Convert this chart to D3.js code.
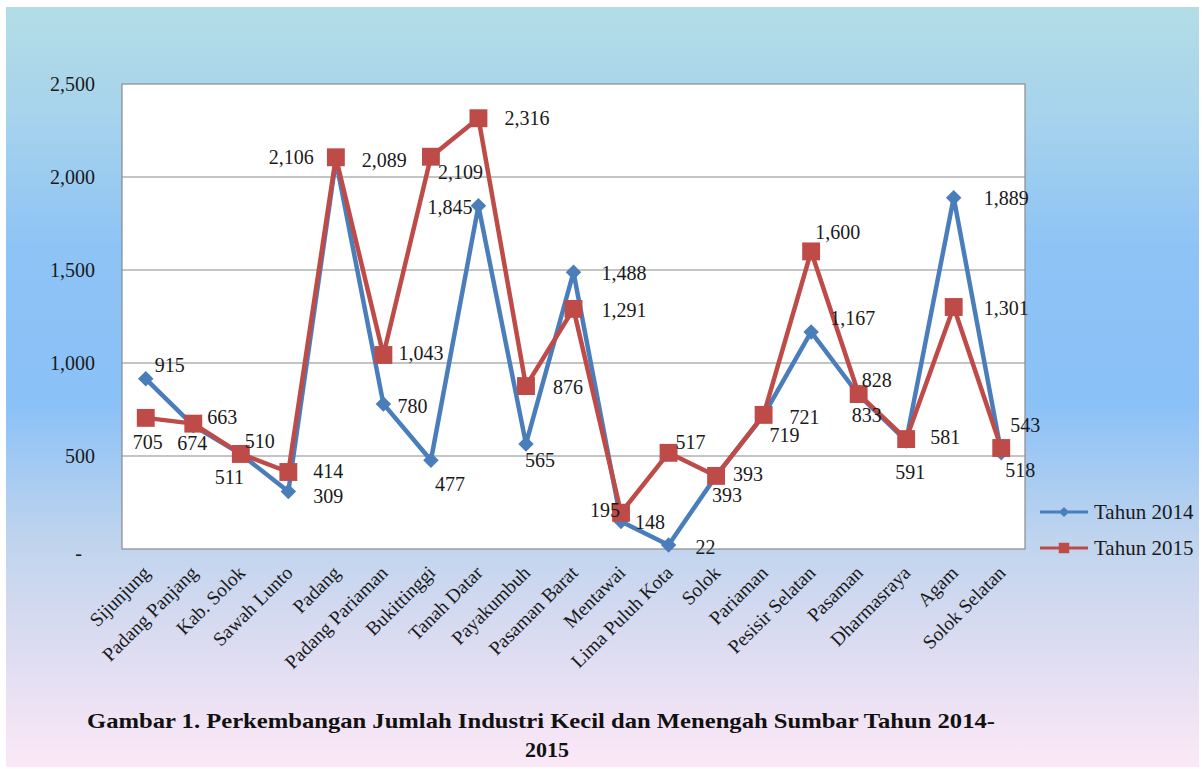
<!DOCTYPE html>
<html>
<head>
<meta charset="utf-8">
<script src="https://cdn.jsdelivr.net/npm/d3@7/dist/d3.min.js"></script>
<style>
    body { margin: 0; background: #fff; }
    text { font-family: "Liberation Serif", "Times New Roman", serif; fill: #1a1a1a; }
</style>
</head>
<body>
<div id="my_chart"></div>
<script>
// data
var categories = ["Sijunjung", "Padang Panjang", "Kab. Solok", "Sawah Lunto", "Padang",
    "Padang Pariaman", "Bukittinggi", "Tanah Datar", "Payakumbuh", "Pasaman Barat",
    "Mentawai", "Lima Puluh Kota", "Solok", "Pariaman", "Pesisir Selatan", "Pasaman",
    "Dharmasraya", "Agam", "Solok Selatan"];
var tahun2014 = [915, 663, 510, 309, 2089, 780, 477, 1845, 565, 1488, 148, 22, 393, 719, 1167, 828, 581, 1889, 518];
var tahun2015 = [705, 674, 511, 414, 2106, 1043, 2109, 2316, 876, 1291, 195, 517, 393, 721, 1600, 833, 591, 1301, 543];
var yTicks = [0, 500, 1000, 1500, 2000, 2500];
var seriesNames = ["Tahun 2014", "Tahun 2015"];
var titleLines = ["Gambar 1. Perkembangan Jumlah Industri Kecil dan Menengah Sumbar Tahun 2014-", "2015"];

// where each data label sits relative to its point (moved by hand in the original)
var labelOffsets2014 = [[9, -14], [14, -9], [4, -13], [25, 4], [26, 0], [14, 2], [4, 24], [-51, 1], [-1, 16],
    [28, 1], [14, 1], [27, 2], [-4, 19], [6, 20], [19, -14], [3, -15], [24, -4], [30, 0], [4, 17]];
var labelOffsets2015 = [[-13, 24], [-16, 19], [-26, 23], [25, -1], [-67, 0], [15, -2], [7, 15], [26, 0], [27, 1],
    [28, 1], [-31, -3], [7, -11], [17, -2], [26, 2], [4, -19], [-7, 21], [-11, 33], [30, 1], [9, -23]];

var W = 1202, H = 769;
var margin = { top: 84, left: 122 },
    width = 903,
    height = 465;

var blue = "#4a7ebb", red = "#be4b48";

var root = d3.select("#my_chart").append("svg")
    .attr("width", W)
    .attr("height", H);

// background gradient
var grad = root.append("defs").append("linearGradient")
    .attr("id", "bg").attr("x1", 0).attr("y1", 0).attr("x2", 0).attr("y2", 1);
[[0, "#b3dde6"], [0.14, "#a7d3ec"], [0.32, "#8dc3f5"], [0.52, "#8ac1f7"], [0.7, "#bfd4ee"],
 [0.84, "#dcdcf1"], [1, "#fce8f6"]].forEach(function (s) {
    grad.append("stop").attr("offset", s[0]).attr("stop-color", s[1]);
});

root.append("rect").attr("width", W).attr("height", H).attr("fill", "#fff");
root.append("rect")
    .attr("x", 6).attr("y", 7)
    .attr("width", 1193).attr("height", 760)
    .attr("fill", "url(#bg)");

var svg = root.append("g")
    .attr("transform", "translate(" + margin.left + "," + margin.top + ")");

// plot area
svg.append("rect")
    .attr("width", width)
    .attr("height", height)
    .attr("fill", "#fff")
    .attr("stroke", "#8a8a8a")
    .attr("stroke-width", 1.2);

var x = d3.scalePoint().domain(categories).range([0, width]).padding(0.5);
var y = d3.scaleLinear().domain([0, 2500]).range([height, 0]);

// gridlines
svg.selectAll(".grid")
    .data(yTicks.filter(function (d) { return d > 0 && d < 2500; }))
    .enter()
    .append("line")
    .attr("class", "grid")
    .attr("x1", 0).attr("x2", width)
    .attr("y1", function (d) { return y(d); })
    .attr("y2", function (d) { return y(d); })
    .attr("stroke", "#8a8a8a")
    .attr("stroke-width", 1.2);

// y axis
var yAxis = svg.append("g")
    .call(d3.axisLeft(y).tickValues(yTicks).tickSize(0).tickPadding(27)
        .tickFormat(function (d) { return d === 0 ? "-" : d3.format(",")(d); }));
yAxis.select(".domain").remove();
yAxis.selectAll("text")
    .style("font-size", "20px")
    .style("font-family", "Liberation Serif")
    .attr("fill", "#1a1a1a")
    .attr("dx", function (d) { return d === 0 ? -13 : 0; })
    .attr("dy", function (d) { return d === 0 ? "0.5em" : "0.32em"; });

// x axis
var xAxis = svg.append("g")
    .attr("transform", "translate(0," + height + ")")
    .call(d3.axisBottom(x).tickSize(0));
xAxis.select(".domain").remove();
xAxis.selectAll("text")
    .style("font-size", "19.5px")
    .style("font-family", "Liberation Serif")
    .attr("fill", "#1a1a1a")
    .attr("x", 0).attr("y", 0).attr("dy", 0)
    .attr("text-anchor", "end")
    .attr("transform", "translate(5,25) rotate(-45)");

// series
var series = [
    { name: seriesNames[0], values: tahun2014, color: blue, marker: "diamond", offsets: labelOffsets2014 },
    { name: seriesNames[1], values: tahun2015, color: red, marker: "square", offsets: labelOffsets2015 }
];

var line = d3.line()
    .x(function (d, i) { return x(categories[i]); })
    .y(function (d) { return y(d); });

function markerPath(type, big) {
    if (type === "square") return d3.symbol().type(d3.symbolSquare).size(big ? 320 : 110)();
    return d3.symbol().type(d3.symbolSquare).size(big ? 120 : 50)();
}
function markerRotate(type) { return type === "diamond" ? " rotate(45)" : ""; }

series.forEach(function (s) {
    svg.append("path")
        .datum(s.values)
        .attr("fill", "none")
        .attr("stroke", s.color)
        .attr("stroke-width", 4.5)
        .attr("stroke-linejoin", "round")
        .attr("d", line);

    svg.selectAll(".m-" + s.marker)
        .data(s.values)
        .enter()
        .append("path")
        .attr("class", "m-" + s.marker)
        .attr("d", markerPath(s.marker, true))
        .attr("fill", s.color)
        .attr("transform", function (d, i) {
            return "translate(" + x(categories[i]) + "," + y(d) + ")" + markerRotate(s.marker);
        });
});

// data labels
series.forEach(function (s) {
    svg.selectAll(".lbl-" + s.marker)
        .data(s.values)
        .enter()
        .append("text")
        .attr("class", "lbl-" + s.marker)
        .attr("x", function (d, i) { return x(categories[i]) + s.offsets[i][0]; })
        .attr("y", function (d, i) { return y(d) + s.offsets[i][1]; })
        .attr("dy", "0.35em")
        .style("font-size", "20px")
        .text(function (d) { return d3.format(",")(d); });
});

// legend
var legend = root.append("g")
    .selectAll("g")
    .data(series)
    .enter()
    .append("g")
    .attr("transform", function (d, i) { return "translate(1040," + (512 + i * 36) + ")"; });

legend.append("line")
    .attr("x1", 0).attr("x2", 48)
    .attr("stroke", function (d) { return d.color; })
    .attr("stroke-width", 3);
legend.append("path")
    .attr("d", function (d) { return markerPath(d.marker, false); })
    .attr("fill", function (d) { return d.color; })
    .attr("transform", function (d) { return "translate(24,0)" + markerRotate(d.marker); });
legend.append("text")
    .attr("x", 54)
    .attr("dy", "0.35em")
    .style("font-size", "21px")
    .text(function (d) { return d.name; });

// caption
root.append("text")
    .attr("x", 87)
    .attr("y", 728)
    .attr("textLength", 908)
    .attr("lengthAdjust", "spacingAndGlyphs")
    .style("font-size", "22px")
    .style("font-weight", "bold")
    .style("fill", "#111")
    .text(titleLines[0]);
root.append("text")
    .attr("x", 547)
    .attr("y", 757)
    .attr("text-anchor", "middle")
    .style("font-size", "22px")
    .style("font-weight", "bold")
    .style("fill", "#111")
    .text(titleLines[1]);
</script>
</body>
</html>
